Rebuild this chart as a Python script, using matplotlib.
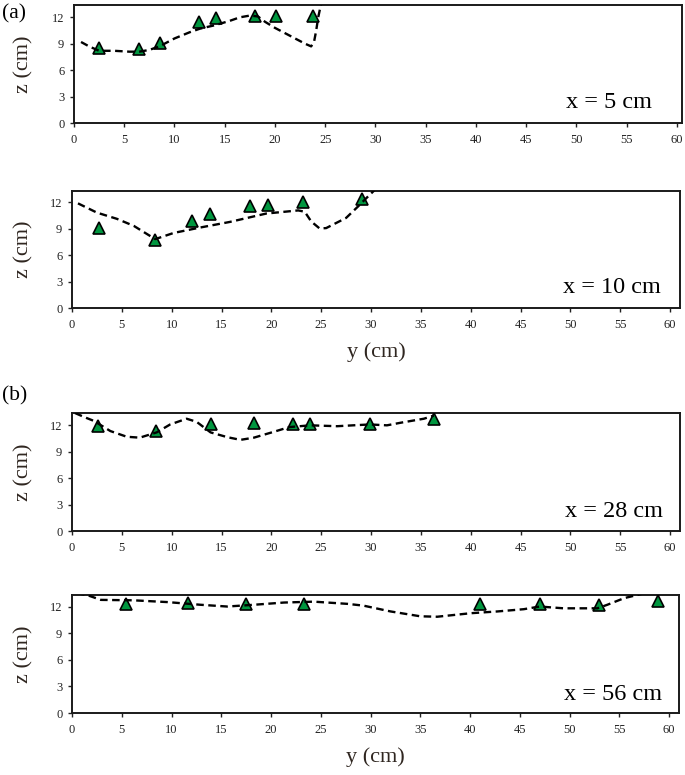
import matplotlib
matplotlib.use("Agg")
import matplotlib.pyplot as plt

plt.rcParams['font.family'] = ['Liberation Serif', 'DejaVu Serif']

# ---------------- data ----------------
titles = ["x = 5 cm", "x = 10 cm", "x = 28 cm", "x = 56 cm"]

# measured points (triangles)
pts1_y = [2.5, 6.5, 8.6, 12.4, 14.1, 18.0, 20.1, 23.8]
pts1_z = [8.5, 8.4, 9.1, 11.45, 11.9, 12.1, 12.2, 12.2]

pts2_y = [2.7, 8.35, 12.0, 13.8, 17.9, 19.7, 23.2, 29.1]
pts2_z = [9.1, 7.7, 9.9, 10.6, 11.5, 11.7, 12.0, 12.3]

pts3_y = [2.6, 8.4, 13.95, 18.3, 22.2, 23.9, 29.9, 36.3]
pts3_z = [11.9, 11.4, 12.1, 12.3, 12.2, 12.2, 12.1, 12.75]

pts4_y = [5.4, 11.65, 17.45, 23.3, 41.0, 47.0, 53.0, 58.9]
pts4_z = [12.3, 12.45, 12.3, 12.3, 12.3, 12.3, 12.2, 12.65]

# computed profiles (dashed lines)
line1_y = [0.7, 1.5, 2.5, 4.0, 5.5, 6.5, 7.5, 8.5, 10.0, 11.5, 12.5, 14.0, 15.5,
           16.5, 17.5, 18.3, 19.0, 20.0, 21.0, 22.0, 23.0, 23.6, 23.9, 24.1, 24.3, 24.6]
line1_z = [9.2, 8.7, 8.2, 8.2, 8.1, 8.1, 8.3, 8.7, 9.6, 10.3, 10.7, 11.1, 11.6,
           12.0, 12.2, 12.1, 11.5, 10.8, 10.2, 9.6, 9.0, 8.7, 9.3, 10.5, 12.0, 13.6]

line2_y = [0.6, 2.5, 4.5, 6.2, 8.35, 10.2, 12.8, 15.85, 19.5, 22.7, 23.35, 24.0,
           24.85, 25.5, 27.5, 28.7, 29.4, 30.4]
line2_z = [11.85, 10.8, 10.1, 9.3, 7.8, 8.5, 9.1, 9.75, 10.7, 11.05, 10.9, 9.8,
           9.0, 9.05, 10.2, 11.5, 12.3, 13.4]

line3_y = [0.3, 1.2, 2.2, 3.85, 5.5, 6.8, 8.5, 9.85, 11.5, 12.5, 13.9, 15.6, 16.9,
           18.25, 20.2, 21.8, 23.9, 26.6, 28.2, 29.9, 31.6, 33.0, 35.3, 36.3]
line3_z = [13.4, 12.95, 12.5, 11.35, 10.7, 10.6, 11.2, 12.1, 12.75, 12.4, 11.2,
           10.65, 10.35, 10.6, 11.25, 11.8, 12.0, 11.9, 12.0, 12.1, 12.0, 12.3,
           12.75, 13.1]

line4_y = [0.5, 1.5, 2.9, 6.2, 9.6, 12.9, 15.6, 18.3, 21.3, 24.3, 27.7, 29.3,
           32.0, 35.0, 36.7, 40.1, 42.8, 45.4, 47.0, 49.4, 52.8, 53.8, 55.5, 56.8, 57.5]
line4_z = [13.5, 13.3, 12.75, 12.7, 12.5, 12.2, 12.0, 12.2, 12.45, 12.55, 12.3,
           12.1, 11.45, 10.9, 10.85, 11.25, 11.45, 11.7, 12.0, 11.8, 11.8, 12.2,
           12.95, 13.3, 13.5]

xticks = list(range(0, 61, 5))
yticks = [0, 3, 6, 9, 12]

panels = [
    (pts1_y, pts1_z, line1_y, line1_z),
    (pts2_y, pts2_z, line2_y, line2_z),
    (pts3_y, pts3_z, line3_y, line3_z),
    (pts4_y, pts4_z, line4_y, line4_z),
]

# ---------------- layout ----------------
W, H = 685, 775
fig = plt.figure(figsize=(W / 100, H / 100), dpi=100)

# (left, right, top, bottom) in pixels
boxes = [(74, 682, 5, 123), (72, 680, 191, 308), (72, 680, 413, 531), (72, 679, 595, 713)]
xmaxs = [60.5, 61, 61, 61]
ymaxs = [13.4, 13.25, 13.4, 13.3]
label_pos = [(0.95, 0.13), (0.968, 0.13), (0.972, 0.12), (0.972, 0.11)]

green = '#00963f'
label_color = '#2f2620'

for i, ((py, pz, ly, lz), (l, r, t, b)) in enumerate(zip(panels, boxes)):
    ax = fig.add_axes([l / W, 1 - b / H, (r - l) / W, (b - t) / H])
    ax.plot(py, pz, linestyle='none', marker='^', markersize=9,
            markerfacecolor=green, markeredgecolor='black', markeredgewidth=1.2, zorder=3)
    ln, = ax.plot(ly, lz, color='black', lw=1.7, zorder=4)
    ln.set_dashes([3.2, 1.9])
    ax.set_xlim(0, xmaxs[i])
    ax.set_ylim(0, ymaxs[i])
    ax.set_xticks(xticks)
    ax.set_yticks(yticks)
    ax.tick_params(axis='both', direction='out', length=3, width=1, labelsize=9,
                   colors='#222222')
    ax.tick_params(axis='y', pad=4)
    ax.tick_params(axis='x', pad=5)
    for sp in ax.spines.values():
        sp.set_linewidth(1.4)
        sp.set_color('#1a1a1a')
    ax.set_ylabel('z (cm)', fontsize=16, color=label_color)
    ax.yaxis.set_label_coords((33 - l) / (r - l), 0.5)
    ax.text(label_pos[i][0], label_pos[i][1], titles[i], transform=ax.transAxes,
            ha='right', va='baseline', fontsize=17.5, color='black')
    if i in (1, 3):
        ax.set_xlabel('y (cm)', fontsize=16, color=label_color, labelpad=8)

fig.text(2 / W, 1 - 14 / H, '(a)', fontsize=15.5, ha='left', va='center')
fig.text(2 / W, 1 - 396 / H, '(b)', fontsize=15.5, ha='left', va='center')

fig.savefig('out.png', dpi=100)
